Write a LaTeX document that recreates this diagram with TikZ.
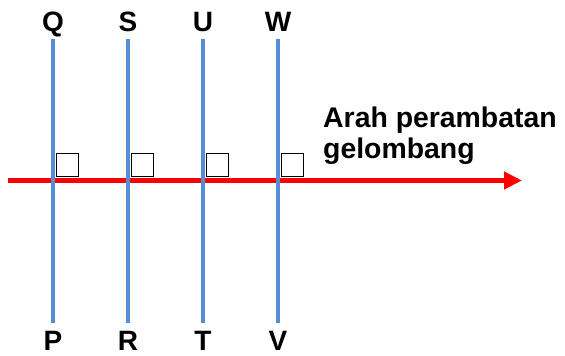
\documentclass[tikz,border=0pt]{standalone}
\usepackage{fontspec}
\setmainfont{Liberation Sans}
\usetikzlibrary{arrows.meta}
\definecolor{birugaris}{RGB}{85,142,213}
\begin{document}
\begin{tikzpicture}[x=1pt,y=-1pt,line join=miter,font=\fontsize{28}{31}\selectfont\bfseries]
	\tikzset{muka/.style={birugaris,line width=3.5pt},
		arah/.style={red,line width=5.6pt,-{Triangle[length=18pt,width=17pt]}},
		kotak/.style={draw,line width=1.3pt,minimum width=22pt,minimum height=23pt,inner sep=0pt,anchor=south west}}
	\useasboundingbox (0,0) rectangle (565,356);
	% sinar
	\coordinate (awal) at (8,180.5);
	\coordinate (ujung) at (522,180.5);
	\draw[arah] (awal)--(ujung);
	% muka gelombang
	\foreach \x/\a/\b in {53/Q/P,128/S/R,203/U/T,278/W/V}{
		\node[anchor=base] (\a) at (\x,31) {\a};
		\node[anchor=base] (\b) at (\x,350) {\b};
		\coordinate (atas\a) at (\x,39);
		\coordinate (bawah\b) at (\x,323);
		\draw[muka] (atas\a)--(bawah\b);
		\node[kotak] (siku\a) at (\x+2.5,177) {};}
	\node[anchor=base west,align=left,inner sep=0pt,font=\fontsize{28.4}{31}\selectfont\bfseries] (ket) at (323,158) {Arah perambatan\\gelombang};
\end{tikzpicture}
\end{document}
